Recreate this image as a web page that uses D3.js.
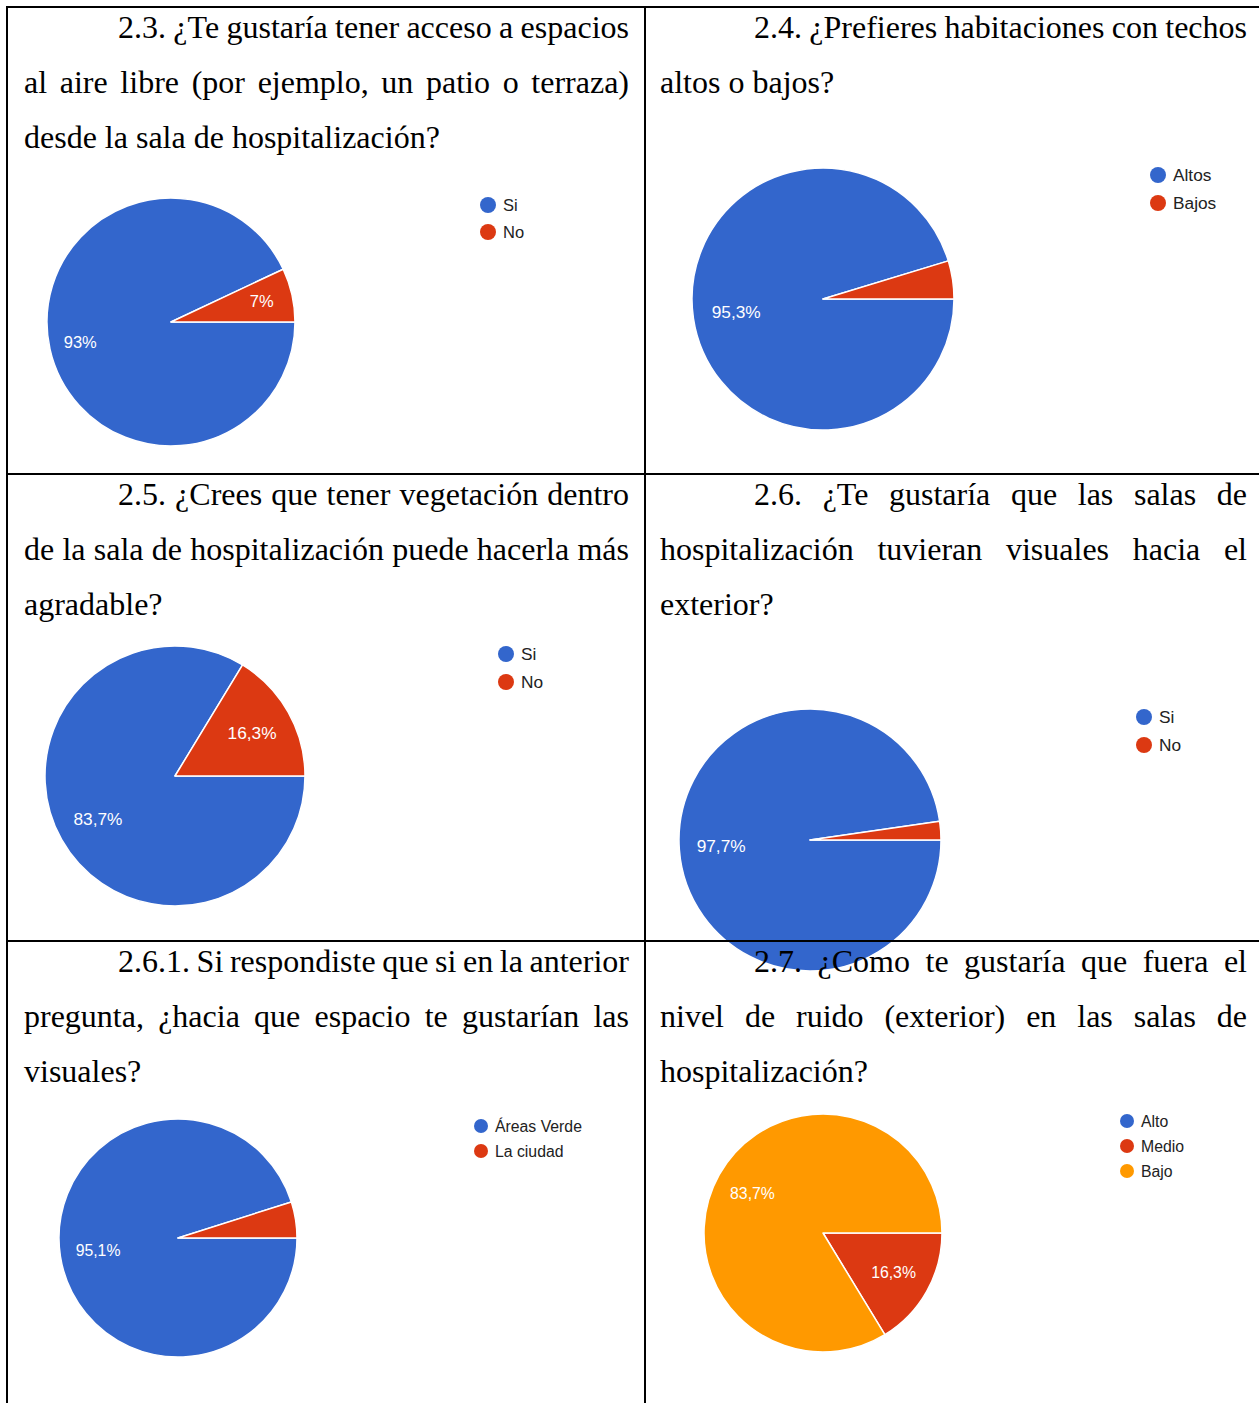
<!DOCTYPE html>
<html>
<head>
<meta charset="utf-8">
<script src="https://cdn.jsdelivr.net/npm/d3@7"></script>
<style>
  html, body { margin: 0; padding: 0; background: #fff; }
  svg { display: block; }
</style>
</head>
<body>
<svg id="chart" width="1259" height="1403"></svg>
<script>
// ---- Survey questions (one entry per printed line) ----
const q23 = ["2.3. ¿Te gustaría tener acceso a espacios",
             "al aire libre (por ejemplo, un patio o terraza)",
             "desde la sala de hospitalización?"];
const q24 = ["2.4. ¿Prefieres habitaciones con techos",
             "altos o bajos?"];
const q25 = ["2.5. ¿Crees que tener vegetación dentro",
             "de la sala de hospitalización puede hacerla más",
             "agradable?"];
const q26 = ["2.6. ¿Te gustaría que las salas de",
             "hospitalización tuvieran visuales hacia el",
             "exterior?"];
const q261 = ["2.6.1. Si respondiste que si en la anterior",
              "pregunta, ¿hacia que espacio te gustarían las",
              "visuales?"];
const q27 = ["2.7. ¿Como te gustaría que fuera el",
             "nivel de ruido (exterior) en las salas de",
             "hospitalización?"];

// ---- Answers (percent of responses) ----
const cat23 = ["Si", "No"];                 const val23 = [93, 7];
const cat24 = ["Altos", "Bajos"];           const val24 = [95.3, 4.7];
const cat25 = ["Si", "No"];                 const val25 = [83.7, 16.3];
const cat26 = ["Si", "No"];                 const val26 = [97.7, 2.3];
const cat261 = ["Áreas Verde", "La ciudad"]; const val261 = [95.1, 4.9];
const cat27 = ["Alto", "Medio", "Bajo"];    const val27 = [0, 16.3, 83.7];

const sliceColors = ["#3366cc", "#dc3912", "#ff9900"];

// ---- Layout ----
const svg = d3.select("#chart");
const colX = [7, 645];          // cell left borders
const rowY = [7, 474, 941];     // cell top borders
const textLeft = [24, 660], textRight = [629, 1247], indent = 94;
const lineGap = 55, firstBase = 31;

const panels = [
  {q: q23,  cats: cat23,  vals: val23,  col: 0, row: 0, cx: 171, cy: 322,  r: 124, lf: 0.75, lx: 488,  ly: 205,  lr: 8, lgap: 27, fs: 16.5},
  {q: q24,  cats: cat24,  vals: val24,  col: 1, row: 0, cx: 823, cy: 299,  r: 131, lf: 0.67, lx: 1158, ly: 175,  lr: 8, lgap: 28, fs: 17.3},
  {q: q25,  cats: cat25,  vals: val25,  col: 0, row: 1, cx: 175, cy: 776,  r: 130, lf: 0.68, lx: 506,  ly: 654,  lr: 8, lgap: 28, fs: 17.3},
  {q: q26,  cats: cat26,  vals: val26,  col: 1, row: 1, cx: 810, cy: 840,  r: 131, lf: 0.68, lx: 1144, ly: 717,  lr: 8, lgap: 28, fs: 17.3},
  {q: q261, cats: cat261, vals: val261, col: 0, row: 2, cx: 178, cy: 1238, r: 119, lf: 0.68, lx: 481,  ly: 1126, lr: 7, lgap: 25, fs: 15.8},
  {q: q27,  cats: cat27,  vals: val27,  col: 1, row: 2, cx: 823, cy: 1233, r: 119, lf: 0.68, lx: 1127, ly: 1121, lr: 7, lgap: 25, fs: 15.8}
];

const pie = d3.pie().sort(null).value(d => d)
  .startAngle(Math.PI / 2).endAngle(Math.PI / 2 + 2 * Math.PI);
const fmt = v => String(v).replace(".", ",") + "%";

const gPies = svg.append("g");
const gGrid = svg.append("g");
const gText = svg.append("g");

// ---- Pie charts with legends ----
panels.forEach(p => {
  const g = gPies.append("g").attr("transform", `translate(${p.cx},${p.cy})`);
  const arc = d3.arc().innerRadius(0).outerRadius(p.r);
  const labelArc = d3.arc().innerRadius(p.r * p.lf).outerRadius(p.r * p.lf);
  const arcs = pie(p.vals);
  g.selectAll("path").data(arcs).join("path")
    .attr("d", arc)
    .attr("fill", (d, i) => sliceColors[i])
    .attr("stroke", "#fff").attr("stroke-width", 1.5)
    .attr("stroke-linejoin", "round");
  g.selectAll("text").data(arcs.filter(d => d.data >= 5)).join("text")
    .attr("transform", d => `translate(${labelArc.centroid(d)})`)
    .attr("text-anchor", "middle").attr("dy", "0.35em")
    .attr("font-family", "'Liberation Sans', Arial, sans-serif")
    .attr("font-size", p.fs).attr("fill", "#fff")
    .text(d => fmt(d.data));

  const lg = gPies.append("g");
  p.cats.forEach((c, i) => {
    const y = p.ly + i * p.lgap;
    lg.append("circle").attr("cx", p.lx).attr("cy", y).attr("r", p.lr)
      .attr("fill", sliceColors[i]);
    lg.append("text").attr("x", p.lx + p.lr + 7).attr("y", y).attr("dy", "0.35em")
      .attr("font-family", "'Liberation Sans', Arial, sans-serif")
      .attr("font-size", p.fs).attr("fill", "#222").text(c);
  });
});

// ---- Table grid ----
const gridStyle = sel => sel.attr("stroke", "#000").attr("stroke-width", 2);
rowY.forEach(y => {
  gGrid.append("line").attr("x1", 6).attr("x2", 1262).attr("y1", y).attr("y2", y).call(gridStyle);
});
colX.forEach(x => {
  gGrid.append("line").attr("x1", x).attr("x2", x).attr("y1", 6).attr("y2", 1410).call(gridStyle);
});

// ---- Justified question text ----
function measure(str) {
  const t = gText.append("text")
    .attr("font-family", "'Liberation Serif', 'Times New Roman', serif")
    .attr("font-size", 32).text(str);
  const w = t.node().getComputedTextLength();
  t.remove();
  return w;
}
const spaceW = measure("a a") - measure("aa");

function drawLine(str, x0, x1, y, justify) {
  const words = str.split(/\s+/);
  const widths = words.map(measure);
  const total = d3.sum(widths);
  const gap = (justify && words.length > 1) ? (x1 - x0 - total) / (words.length - 1) : spaceW;
  let x = x0;
  words.forEach((w, i) => {
    gText.append("text").attr("x", x).attr("y", y)
      .attr("font-family", "'Liberation Serif', 'Times New Roman', serif")
      .attr("font-size", 32).attr("fill", "#000").text(w);
    x += widths[i] + gap;
  });
}

panels.forEach(p => {
  const top = rowY[p.row];
  p.q.forEach((line, i) => {
    const x0 = textLeft[p.col] + (i === 0 ? indent : 0);
    const last = i === p.q.length - 1;
    drawLine(line, x0, textRight[p.col], top + firstBase + i * lineGap, !last);
  });
});
</script>
</body>
</html>
